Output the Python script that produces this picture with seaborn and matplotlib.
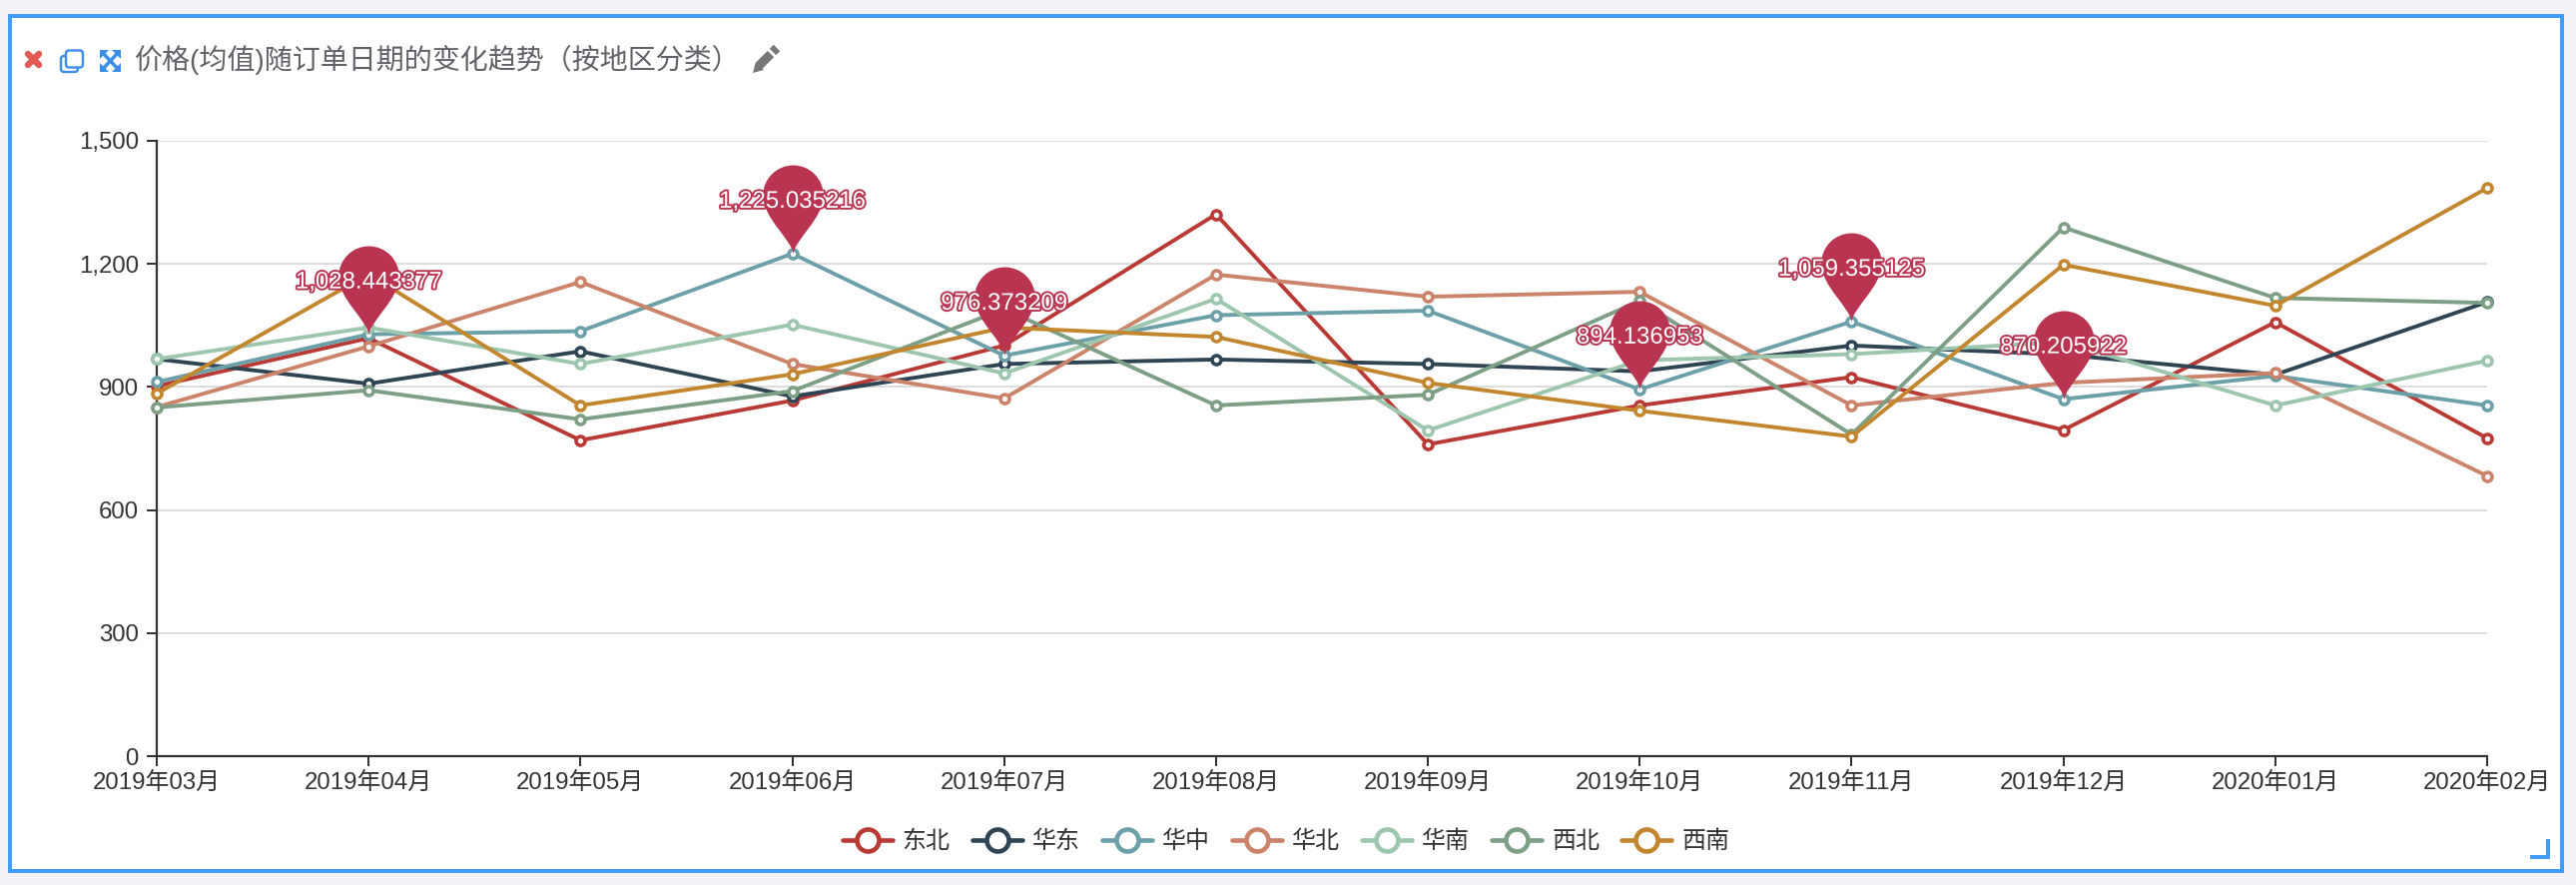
import matplotlib
matplotlib.use("Agg")
import pandas as pd
import matplotlib.pyplot as plt
import matplotlib.patheffects as pe
import seaborn as sns
from matplotlib.lines import Line2D
from matplotlib.patches import FancyBboxPatch, Polygon, Rectangle
from matplotlib.path import Path

months = ["2019年03月", "2019年04月", "2019年05月", "2019年06月", "2019年07月", "2019年08月",
          "2019年09月", "2019年10月", "2019年11月", "2019年12月", "2020年01月", "2020年02月"]
regions = ["东北", "华东", "华中", "华北", "华南", "西北", "西南"]

dongbei = [902, 1019, 770, 867, 1001, 1321, 760, 855, 924, 795, 1058, 775]
huadong = [968, 908, 987, 877, 956, 967, 956, 938, 1001, 979, 930, 1107]
huazhong = [912, 1028.443377, 1036, 1225.035216, 976.373209, 1075, 1086, 894.136953, 1059.355125, 870.205922, 927, 855]
huabei = [851, 999, 1156, 956, 872, 1174, 1120, 1132, 855, 910, 934, 683]
huanan = [968, 1045, 956, 1052, 933, 1115, 794, 965, 980, 1010, 855, 964]
xibei = [850, 892, 821, 890, 1090, 855, 881, 1110, 784, 1289, 1117, 1105]
xinan = [884, 1175, 855, 931, 1045, 1022, 910, 842, 779, 1198, 1098, 1385]

pin_months = ["2019年04月", "2019年06月", "2019年07月", "2019年10月", "2019年11月", "2019年12月"]
pin_values = [1028.443377, 1225.035216, 976.373209, 894.136953, 1059.355125, 870.205922]

y_ticks = [0, 300, 600, 900, 1200, 1500]

COLORS = ["#b93a35", "#2f4554", "#6ca0a9", "#cb846a", "#9cc6ae", "#7d9f86", "#c2872e"]
BLUE = "#409eff"
PIN_RED = "#b93450"
W, H = 2580, 886
PX = 0.72  # points per pixel at dpi 100

sns.set_theme(style="whitegrid")
plt.rcParams["font.family"] = ["Liberation Sans", "Noto Sans CJK SC", "DejaVu Sans"]

df = pd.DataFrame({"month": months * len(regions),
                   "region": [r for r in regions for _ in months],
                   "price": dongbei + huadong + huazhong + huabei + huanan + xibei + xinan})

fig = plt.figure(figsize=(W / 100, H / 100), dpi=100, facecolor="#f0f2f5")

# panel frame, toolbar icons and title live on a pixel-coordinate layer
bg = fig.add_axes([0, 0, 1, 1], zorder=0)
bg.set_xlim(0, W)
bg.set_ylim(H, 0)
bg.axis("off")
bg.add_patch(Rectangle((10, 16), 2556, 856, fc="white", ec=BLUE, lw=4 * PX))
bg.plot([2552, 2552, 2534], [840, 858, 858], color=BLUE, lw=4 * PX, solid_joinstyle="miter", solid_capstyle="butt")

# close icon
for xs, ys in [([28, 39], [54, 65]), ([28, 39], [65, 54])]:
    bg.plot(xs, ys, color="#e35b55", lw=6.5 * PX, solid_capstyle="round")

# copy icon
bg.add_patch(FancyBboxPatch((61, 56), 17, 16, boxstyle="round,pad=0,rounding_size=3", fc="white", ec="#3d8fe8", lw=2.4 * PX))
bg.add_patch(FancyBboxPatch((66, 50.5), 17, 17, boxstyle="round,pad=0,rounding_size=3", fc="white", ec="#3d8fe8", lw=2.4 * PX))

# fullscreen icon
for xs, ys in [([103, 118], [53, 69]), ([103, 118], [69, 53])]:
    bg.plot(xs, ys, color="#3a8ee6", lw=3.5 * PX, solid_capstyle="butt")
for cx, cy, dx, dy in [(100, 50, 1, 1), (121, 50, -1, 1), (100, 72, 1, -1), (121, 72, -1, -1)]:
    bg.add_patch(Polygon([(cx, cy), (cx + 9 * dx, cy), (cx, cy + 9 * dy)], fc="#3a8ee6", ec="none"))

bg.text(135, 60, "价格(均值)随订单日期的变化趋势（按地区分类）", fontsize=20.2, color="#5f6266", ha="left", va="center")

# edit icon
bg.add_patch(Polygon([(754, 73), (757, 62), (765, 70)], fc="#777777", ec="none"))
bg.plot([760, 772], [66, 54], color="#777777", lw=9 * PX, solid_capstyle="butt")
bg.plot([774, 778], [52, 48], color="#777777", lw=9 * PX, solid_capstyle="butt")

# chart area
ax = fig.add_axes([157 / W, 1 - 757 / H, (2491 - 157) / W, (757 - 141) / H], zorder=1)
ax.patch.set_alpha(0)
for region, color in zip(regions, COLORS):
    sns.lineplot(data=df[df.region == region], x="month", y="price", ax=ax, color=color, sort=False,
                 estimator=None, errorbar=None, legend=False, lw=3.9 * PX, marker="o", ms=9 * PX,
                 mfc="white", mec=color, mew=3.6 * PX, clip_on=False, zorder=3)

# pin markers, tip sits on the data point
PIN = Path([(0, 0), (-0.01, 0.16), (-0.34, 0.40), (-0.34, 0.66),
            (-0.34, 0.848), (-0.188, 1), (0, 1),
            (0.188, 1), (0.34, 0.848), (0.34, 0.66),
            (0.34, 0.40), (0.01, 0.16), (0, 0), (0, 0)],
           [Path.MOVETO] + [Path.CURVE4] * 12 + [Path.CLOSEPOLY])
sns.scatterplot(x=pin_months, y=pin_values, ax=ax, marker=PIN, s=(2 * 89 * PX) ** 2, color=PIN_RED,
                linewidth=0, zorder=5, clip_on=False, legend=False)
for m, v in zip(pin_months, pin_values):
    ax.annotate(f"{v:,.6f}", (m, v), xytext=(0, 52 * PX), textcoords="offset points", ha="center", va="center",
                fontsize=24 * PX, color="white", zorder=6,
                path_effects=[pe.withStroke(linewidth=3.8 * PX, foreground=PIN_RED)])

ax.set_xlim(0, 11)
ax.set_ylim(0, 1500)
ax.set_yticks(y_ticks)
ax.set_yticklabels([f"{t:,}" for t in y_ticks])
ax.set_xlabel("")
ax.set_ylabel("")
ax.grid(axis="x", visible=False)
ax.grid(axis="y", color="#dddddd", lw=2 * PX)
ax.set_axisbelow(True)
sns.despine(ax=ax)
for side in ["left", "bottom"]:
    ax.spines[side].set_color("#333333")
    ax.spines[side].set_linewidth(2.2 * PX)
ax.tick_params(axis="both", length=10 * PX, width=2 * PX, color="#333333", labelcolor="#333333",
               labelsize=24 * PX, bottom=True, left=True)
ax.tick_params(axis="y", pad=8 * PX)
ax.tick_params(axis="x", pad=6 * PX)

handles = [Line2D([], [], color=c, lw=4.6 * PX, marker="o", ms=22 * PX, mfc="white", mec=c, mew=4.6 * PX)
           for c in COLORS]
fig.legend(handles, regions, loc="center", bbox_to_anchor=(1288 / W, 1 - 843 / H), ncol=7, frameon=False,
           fontsize=24 * PX, labelcolor="#333333", handlelength=2.08, handletextpad=0.42, columnspacing=0.92,
           borderpad=0, borderaxespad=0)

fig.savefig("out.png", dpi=100, facecolor=fig.get_facecolor())
